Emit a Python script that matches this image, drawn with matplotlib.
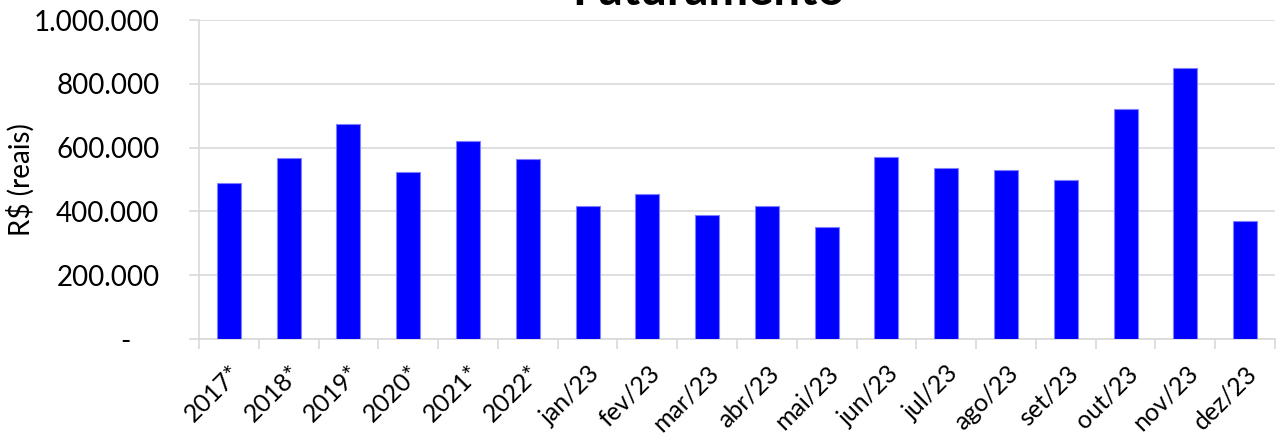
import matplotlib.pyplot as plt
import numpy as np
from matplotlib.ticker import FuncFormatter

plt.rcParams["font.family"] = ["Lato", "DejaVu Sans"]

categories = ["2017*", "2018*", "2019*", "2020*", "2021*", "2022*",
              "jan/23", "fev/23", "mar/23", "abr/23", "mai/23", "jun/23",
              "jul/23", "ago/23", "set/23", "out/23", "nov/23", "dez/23"]
faturamento = [488000, 566000, 675000, 522000, 620000, 564000,
               418000, 454000, 389000, 418000, 351000, 572000,
               537000, 529000, 500000, 721000, 848000, 370000]
y_ticks = [0, 200000, 400000, 600000, 800000, 1000000]


def fmt_reais(v, pos):
    if v == 0:
        return "-    "
    return f"{int(v):,}".replace(",", ".")


def main():
    fig = plt.figure(figsize=(12.77, 4.40), dpi=100)
    ax = fig.add_axes([199 / 1277, 1 - 339 / 440, 1076 / 1277, 319 / 440])

    x = np.arange(len(categories))
    ax.bar(x, faturamento, width=0.4, color="#0000ff",
           edgecolor="#8080ff", linewidth=0.8, zorder=3)

    ax.set_xlim(-0.5, len(categories) - 0.5)
    ax.set_ylim(0, 1000000)
    ax.set_yticks(y_ticks)
    ax.yaxis.set_major_formatter(FuncFormatter(fmt_reais))
    ax.grid(axis="y", color="#d9d9d9", linewidth=1.2, zorder=0)

    # category boundaries get the tick marks, centers get the labels
    ax.set_xticks(np.arange(len(categories) + 1) - 0.5)
    ax.set_xticklabels([])
    ax.set_xticks(x, minor=True)
    ax.set_xticklabels(categories, minor=True, rotation=45, ha="right",
                       rotation_mode="anchor", fontsize=18)
    ax.tick_params(axis="x", which="major", length=7, width=1.2,
                   color="#d9d9d9")
    ax.tick_params(axis="x", which="minor", length=0, pad=16)
    ax.tick_params(axis="y", length=7.5, width=1.2, color="#d9d9d9",
                   labelsize=20, pad=21)

    for side in ["top", "right"]:
        ax.spines[side].set_visible(False)
    for side in ["left", "bottom"]:
        ax.spines[side].set_color("#d9d9d9")
        ax.spines[side].set_linewidth(1.2)

    ax.set_ylabel("R$ (reais)", fontsize=20)
    ax.yaxis.set_label_coords(-164 / 1076, 0.5)

    fig.text(709 / 1277, 1 - 5 / 440, "Faturamento", ha="center",
             va="baseline", fontsize=34, fontweight="bold")

    fig.savefig("out.png", dpi=100)


if __name__ == "__main__":
    main()
